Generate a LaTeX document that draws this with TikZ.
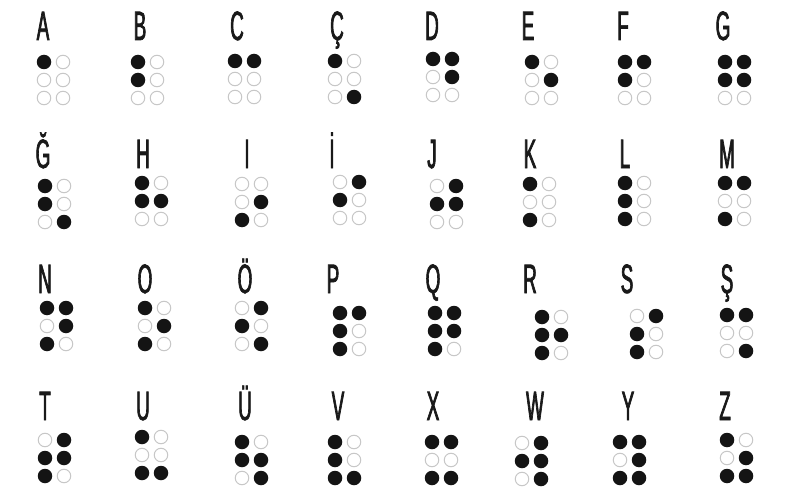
\documentclass[tikz,border=0pt]{standalone}
\usepackage{fontspec}
\newfontfamily\condfont[FakeStretch=0.46,FakeBold=1.6]{Liberation Sans}
\tikzset{
  letter/.style={anchor=base, inner sep=0pt, font=\condfont\fontsize{41}{41}\selectfont, text=black!90},
  dotfull/.style={circle, fill=black!92, draw=none, minimum size=14.5pt, inner sep=0pt},
  dotempty/.style={circle, draw=black!22, line width=1pt, minimum size=13.5pt, inner sep=0pt},
}
\newcommand\brcell[7]{%
  \node[letter] (#1) at (#3,#4) {#2};
  \foreach \k in {1,...,6}{%
    \gdef\dotison{0}%
    \foreach \f in {#7}{\ifnum\f=\k\relax\gdef\dotison{1}\fi}%
    \pgfmathtruncatemacro\col{\k>3 ? 1 : 0}%
    \pgfmathtruncatemacro\row{\k>3 ? \k-4 : \k-1}%
    \ifnum\dotison=1
      \node[dotfull] (#1-\k) at ({#5+19*\col},{#6+18*\row}) {};
    \else
      \node[dotempty] (#1-\k) at ({#5+19*\col},{#6+18*\row}) {};
    \fi
  }%
}
\begin{document}
\begin{tikzpicture}[x=1pt,y=-1pt]
\fill[white] (0,0) rectangle (795,500);
\useasboundingbox (0,0) rectangle (795,500);
% row 1
\brcell{a}{A}{43}{40}{44}{62}{1}
\brcell{b}{B}{140}{40}{138}{62}{1,2}
\brcell{c}{C}{237}{40}{235}{61}{1,4}
\brcell{cc}{Ç}{337}{40}{335}{61}{1,6}
\brcell{d}{D}{432}{40}{433}{59}{1,4,5}
\brcell{e}{E}{528}{40}{532}{62}{1,5}
\brcell{f}{F}{623}{40}{625}{62}{1,2,4}
\brcell{g}{G}{723}{40}{725}{62}{1,2,4,5}
% row 2
\brcell{gg}{Ğ}{43}{168}{45}{186}{1,2,6}
\brcell{h}{H}{143}{168}{142}{183}{1,2,5}
\brcell{i}{I}{247}{168}{242}{184}{3,5}
\brcell{ii}{İ}{332}{168}{340}{182}{2,4}
\brcell{j}{J}{432}{168}{437}{186}{2,4,5}
\brcell{k}{K}{530}{168}{530}{184}{1,3}
\brcell{l}{L}{625}{168}{625}{183}{1,2,3}
\brcell{m}{M}{727}{168}{725}{183}{1,3,4}
% row 3
\brcell{n}{N}{45}{293}{47}{308}{1,3,4,5}
\brcell{o}{O}{145}{293}{145}{308}{1,3,5}
\brcell{oo}{Ö}{245}{293}{242}{308}{2,4,6}
\brcell{p}{P}{333}{293}{340}{313}{1,2,3,4}
\brcell{q}{Q}{433}{293}{435}{313}{1,2,3,4,5}
\brcell{r}{R}{530}{293}{542}{317}{1,2,3,5}
\brcell{s}{S}{627}{293}{637}{316}{2,3,4}
\brcell{ss}{Ş}{727}{293}{727}{315}{1,4,6}
% row 4
\brcell{t}{T}{45}{420}{45}{440}{2,3,4,5}
\brcell{u}{U}{143}{420}{142}{437}{1,3,6}
\brcell{uu}{Ü}{245}{420}{242}{442}{1,2,5,6}
\brcell{v}{V}{338}{420}{335}{442}{1,2,3,6}
\brcell{x}{X}{433}{420}{432}{442}{1,3,4,6}
\brcell{w}{W}{535}{420}{522}{443}{2,4,5,6}
\brcell{y}{Y}{628}{420}{620}{442}{1,3,4,5,6}
\brcell{z}{Z}{725}{420}{727}{440}{1,3,5,6}
\end{tikzpicture}
\end{document}
